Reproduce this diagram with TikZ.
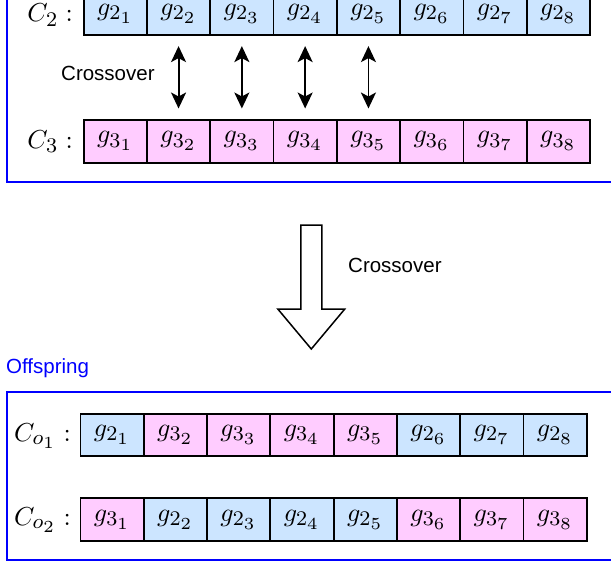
\RequirePackage{fix-cm}
\documentclass[tikz,border=0pt]{standalone}
\usepackage{fontspec}
\newfontfamily\sansf{Liberation Sans}
\usetikzlibrary{arrows.meta}
\DeclareMathSizes{10}{10}{8}{6.5}
\definecolor{cellblue}{HTML}{CCE5FF}
\definecolor{cellpink}{HTML}{FFCCFF}
\definecolor{frameblue}{HTML}{0000FF}
\newcommand{\gmath}[1]{\scalebox{2.6}{$#1$}}
\newcommand{\gcell}[1]{\raisebox{-2pt}{\gmath{#1}}}
\begin{document}
\begin{tikzpicture}[x=1pt,y=1pt,
  cell/.style={draw=black, line width=1.8pt, minimum width=63.3pt, minimum height=42.7pt,
    inner sep=0pt, anchor=north west, font=\fontsize{10}{12}\selectfont},
  lbl/.style={anchor=east, inner sep=0pt, font=\fontsize{10}{12}\selectfont},
  sanslbl/.style={anchor=west, inner sep=0pt, font=\sansf\fontsize{20.5}{24}\selectfont},
  frame/.style={draw=frameblue, line width=2pt},
  dbl/.style={{Stealth[length=16pt,width=15pt,inset=4pt]}-{Stealth[length=16pt,width=15pt,inset=4pt]}, line width=1.9pt},
  bigarrow/.style={draw=black, fill=white, line width=1.5pt, line join=miter}
]
\useasboundingbox (0,0) rectangle (611,-568);
\clip (0,0) rectangle (611,-568);

% top frame
\draw[frame] (7,30) rectangle (650,-181.7);

% C2 row
\foreach \cc/\t [count=\i] in {cellblue/2_1,cellblue/2_2,cellblue/2_3,cellblue/2_4,cellblue/2_5,cellblue/2_6,cellblue/2_7,cellblue/2_8}
  \node[cell, fill=\cc] (c2-\i) at ({82.7+63.3*(\i-1)},8.4) {\gcell{g_{\t}}};
% C3 row
\foreach \cc/\t [count=\i] in {cellpink/3_1,cellpink/3_2,cellpink/3_3,cellpink/3_4,cellpink/3_5,cellpink/3_6,cellpink/3_7,cellpink/3_8}
  \node[cell, fill=\cc] (c3-\i) at ({82.7+63.3*(\i-1)},-119) {\gcell{g_{\t}}};

\node[lbl] (lc2) at (73,-15) {\gmath{C_2:}};
\node[lbl] (lc3) at (73,-141.5) {\gmath{C_3:}};

\foreach \i in {2,3,4,5}
  \draw[dbl] ([yshift=-10pt]c2-\i.south) -- ([yshift=10.5pt]c3-\i.north);
\node[sanslbl] (xo1) at (61,-73) {Crossover};

% big arrow
\draw[bigarrow] (300.8,-225) -- (321.8,-225) -- (321.8,-309) -- (344.8,-309)
  -- (311.3,-349) -- (277.8,-309) -- (300.8,-309) -- cycle;
\node[sanslbl] (xo2) at (348,-265) {Crossover};

% offspring
\node[sanslbl, text=frameblue] (off) at (6,-368) {Offspring};
\draw[frame] (7,-392.3) rectangle (650,-560.3);

\foreach \cc/\t [count=\i] in {cellblue/2_1,cellpink/3_2,cellpink/3_3,cellpink/3_4,cellpink/3_5,cellblue/2_6,cellblue/2_7,cellblue/2_8}
  \node[cell, fill=\cc] (o1-\i) at ({79.5+63.3*(\i-1)},-412.7) {\gcell{g_{\t}}};
\foreach \cc/\t [count=\i] in {cellpink/3_1,cellblue/2_2,cellblue/2_3,cellblue/2_4,cellblue/2_5,cellpink/3_6,cellpink/3_7,cellpink/3_8}
  \node[cell, fill=\cc] (o2-\i) at ({79.5+63.3*(\i-1)},-497.3) {\gcell{g_{\t}}};

\node[lbl] (lo1) at (71,-436) {\gmath{C_{o_1}:}};
\node[lbl] (lo2) at (71,-520) {\gmath{C_{o_2}:}};
\end{tikzpicture}
\end{document}
